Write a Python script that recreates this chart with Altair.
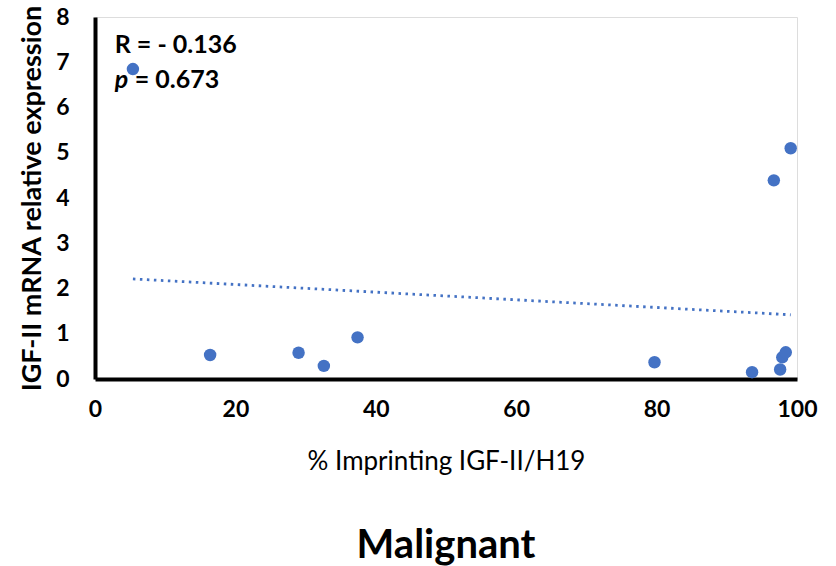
import altair as alt
import pandas as pd

# Data
imprinting = [5.4, 16.4, 29.0, 32.6, 37.4, 79.7, 93.6, 97.6, 97.9, 98.4, 96.7, 99.1]
expression = [6.85, 0.53, 0.58, 0.29, 0.92, 0.37, 0.15, 0.21, 0.48, 0.59, 4.39, 5.10]

x_ticks = [0, 20, 40, 60, 80, 100]
y_ticks = [0, 1, 2, 3, 4, 5, 6, 7, 8]

stat_x = [2.8, 2.8]
stat_y = [7.38, 6.6]
stat_p = ["", "p"]
stat_rest = ["R = - 0.136", "= 0.673"]

FONT = "Lato"
BLUE = "#4472C4"

df = pd.DataFrame({"x": imprinting, "y": expression})
ann = pd.DataFrame({"x": stat_x, "y": stat_y, "p": stat_p, "rest": stat_rest})

xs = alt.Scale(domain=[0, 100], nice=False, zero=True)
ys = alt.Scale(domain=[0, 8], nice=False)

xaxis = alt.Axis(values=x_ticks, title="% Imprinting IGF-II/H19", grid=False, ticks=False,
                 domainWidth=4, domainColor="black", labelFont=FONT, labelFontSize=23,
                 labelFontWeight="bold", labelColor="black", labelPadding=19, labelFlush=False,
                 titleFont=FONT, titleFontSize=26, titleFontWeight="normal",
                 titleColor="black", titlePadding=27)
yaxis = alt.Axis(values=y_ticks, title="IGF-II mRNA relative expression", grid=False, ticks=False,
                 domainWidth=4, domainColor="black", labelFont=FONT, labelFontSize=23,
                 labelFontWeight="bold", labelColor="black", labelPadding=26, labelFlush=False,
                 titleFont=FONT, titleFontSize=27, titleFontWeight="bold",
                 titleColor="black", titlePadding=9)

points = alt.Chart(df).mark_circle(size=155, color=BLUE, opacity=1).encode(
    x=alt.X("x:Q", scale=xs, axis=xaxis),
    y=alt.Y("y:Q", scale=ys, axis=yaxis),
)

trend = alt.Chart(df).transform_regression("x", "y").mark_line(
    color=BLUE, strokeWidth=2.8, strokeDash=[2.5, 4.5]
).encode(x=alt.X("x:Q", scale=xs), y=alt.Y("y:Q", scale=ys))

ann_style = dict(align="left", baseline="middle", font=FONT, fontSize=25,
                 fontWeight="bold", color="black")

r_only = alt.Chart(ann.iloc[[0]]).mark_text(**ann_style).encode(
    x=alt.X("x:Q", scale=xs), y=alt.Y("y:Q", scale=ys), text="rest:N")
p_only = alt.Chart(ann.iloc[[1]]).mark_text(fontStyle="italic", **ann_style).encode(
    x=alt.X("x:Q", scale=xs), y=alt.Y("y:Q", scale=ys), text="p:N")
rest_only = alt.Chart(ann.iloc[[1]]).mark_text(dx=20, **ann_style).encode(
    x=alt.X("x:Q", scale=xs), y=alt.Y("y:Q", scale=ys), text="rest:N")

chart = alt.layer(trend, points, r_only, p_only, rest_only).properties(
    width=702, height=362,
    autosize=alt.AutoSizeParams(type="none"),
    padding={"left": 95, "top": 17, "right": 39, "bottom": 187},
    title=alt.TitleParams("Malignant", orient="bottom", font=FONT, fontSize=40,
                          fontWeight="bold", color="black", offset=52, anchor="middle"),
).configure_view(stroke=None).configure(background="white")

chart.save("out.html", embed_options={"renderer": "svg", "actions": False})
